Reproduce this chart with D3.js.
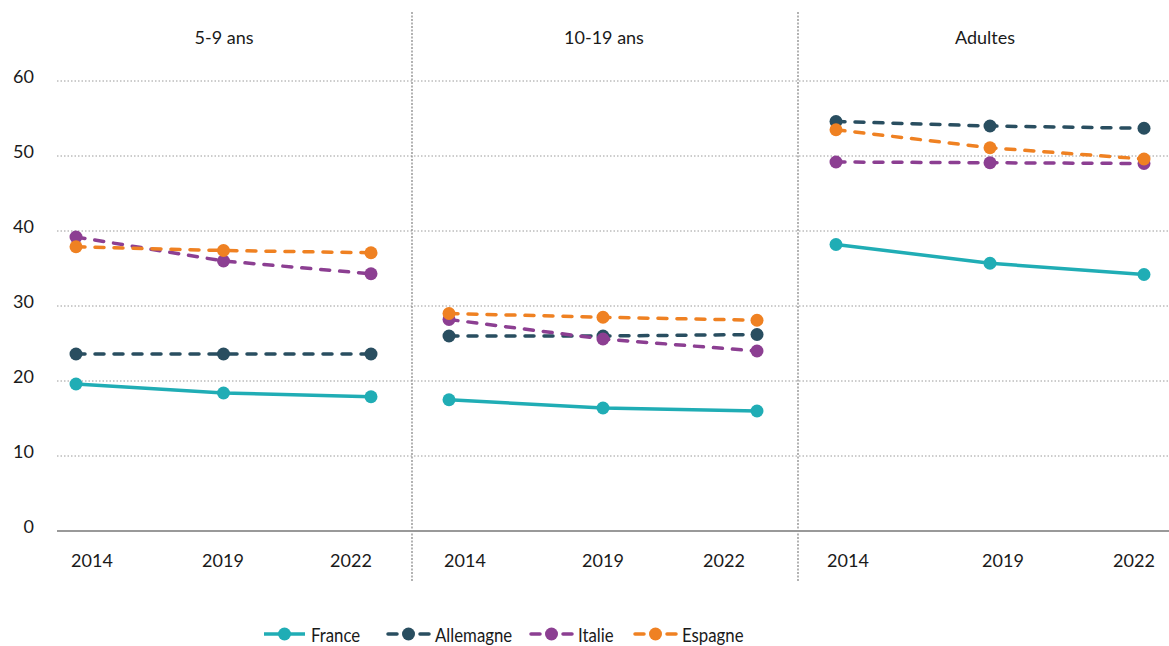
<!DOCTYPE html>
<html>
<head>
<meta charset="utf-8">
<script src="https://cdn.jsdelivr.net/npm/d3@7"></script>
<style>
  body { margin: 0; background: #fff; }
  svg { display: block; font-family: Lato, "Noto Sans", sans-serif; }
  .lbl { fill: #1a1a1a; font-size: 18px; }
</style>
</head>
<body>
<div id="chart"></div>
<script>
// data
var panels = ["5-9 ans", "10-19 ans", "Adultes"];
var years = ["2014", "2019", "2022"];
var countries = ["France", "Allemagne", "Italie", "Espagne"];
var yTicks = [0, 10, 20, 30, 40, 50, 60];

// one array per country: [panel][year]
var france    = [[19.6, 18.4, 17.9], [17.5, 16.4, 16.0], [38.2, 35.7, 34.2]];
var allemagne = [[23.6, 23.6, 23.6], [26.0, 26.0, 26.2], [54.6, 54.0, 53.7]];
var italie    = [[39.2, 36.0, 34.3], [28.2, 25.6, 24.0], [49.2, 49.1, 49.0]];
var espagne   = [[37.9, 37.4, 37.1], [29.0, 28.5, 28.1], [53.5, 51.1, 49.6]];

var seriesValues = [france, allemagne, italie, espagne];

/* styling */
var colors = ["#20adb5", "#294e60", "#8c3f92", "#ef8122"];
var dashed = [false, true, true, true];

/* layout */
var width = 1169, height = 646;
var gridLeft = 57, gridRight = 1169;
var dividers = [412, 798];
var pointRanges = [[76, 371], [449, 757], [836, 1144]];
var labelRanges = [[92, 223, 351], [465, 603, 724], [848, 1003, 1134]];
var titleX = [224, 604, 985];
var legendX = [264, 388, 531, 635];

var svg = d3.select("#chart").append("svg")
    .attr("width", width)
    .attr("height", height);

var y = d3.scaleLinear().domain([0, 60]).range([531, 81]);

/* horizontal dotted grid */
svg.append("g").selectAll("line")
    .data(yTicks.filter(function (d) { return d > 0; }))
    .enter().append("line")
    .attr("x1", gridLeft).attr("x2", gridRight)
    .attr("y1", function (d) { return y(d); })
    .attr("y2", function (d) { return y(d); })
    .attr("stroke", "#9a9a9a")
    .attr("stroke-width", 1)
    .attr("stroke-dasharray", "1.5,2");

/* y tick labels */
svg.append("g").selectAll("text")
    .data(yTicks)
    .enter().append("text")
    .attr("class", "lbl")
    .attr("x", 34)
    .attr("y", function (d) { return y(d) - 5; })
    .attr("text-anchor", "end")
    .attr("dominant-baseline", "central")
    .text(function (d) { return d; });

/* panel dividers */
svg.append("g").selectAll("line")
    .data(dividers)
    .enter().append("line")
    .attr("x1", function (d) { return d; })
    .attr("x2", function (d) { return d; })
    .attr("y1", 12).attr("y2", 582)
    .attr("stroke", "#8a8a8a")
    .attr("stroke-width", 1.3)
    .attr("stroke-dasharray", "2,1.5");

/* zero baseline */
svg.append("line")
    .attr("x1", gridLeft).attr("x2", gridRight)
    .attr("y1", y(0)).attr("y2", y(0))
    .attr("stroke", "#999")
    .attr("stroke-width", 2);

var line = d3.line()
    .x(function (d) { return d.x; })
    .y(function (d) { return y(d.v); });

panels.forEach(function (title, p) {
  var x = d3.scalePoint().domain(years).range(pointRanges[p]);
  var xl = d3.scaleOrdinal().domain(years).range(labelRanges[p]);
  var g = svg.append("g");

  g.append("text")
      .attr("class", "lbl")
      .attr("x", titleX[p]).attr("y", 37)
      .attr("text-anchor", "middle")
      .attr("dominant-baseline", "central")
      .text(title);

  g.selectAll("text.year")
      .data(years)
      .enter().append("text")
      .attr("class", "lbl year")
      .attr("x", function (d) { return xl(d); })
      .attr("y", 560)
      .attr("text-anchor", "middle")
      .attr("dominant-baseline", "central")
      .text(function (d) { return d; });

  countries.forEach(function (c, i) {
    var pts = years.map(function (yr, j) {
      return {x: x(yr), v: seriesValues[i][p][j]};
    });
    g.append("path")
        .datum(pts)
        .attr("d", line)
        .attr("fill", "none")
        .attr("stroke", colors[i])
        .attr("stroke-width", 3.5)
        .attr("stroke-linecap", dashed[i] ? "round" : "butt")
        .attr("stroke-dasharray", dashed[i] ? "9,10" : null);
    g.selectAll("circle.c" + i)
        .data(pts)
        .enter().append("circle")
        .attr("class", "c" + i)
        .attr("cx", function (d) { return d.x; })
        .attr("cy", function (d) { return y(d.v); })
        .attr("r", 6.5)
        .attr("fill", colors[i]);
  });
});

/* legend (condensed text, like the original) */
var legY = 634;
var leg = svg.append("g").selectAll("g")
    .data(countries)
    .enter().append("g")
    .attr("transform", function (d, i) { return "translate(" + legendX[i] + "," + legY + ")"; });
leg.append("line")
    .attr("x1", 0).attr("x2", 41)
    .attr("stroke", function (d, i) { return colors[i]; })
    .attr("stroke-width", 3.5)
    .attr("stroke-linecap", function (d, i) { return dashed[i] ? "round" : "butt"; })
    .attr("stroke-dasharray", function (d, i) { return dashed[i] ? "9,23" : null; });
leg.append("circle")
    .attr("cx", 20.5).attr("r", 6.5)
    .attr("fill", function (d, i) { return colors[i]; });
leg.append("text")
    .attr("class", "lbl")
    .attr("transform", "translate(47,0) scale(0.84,1)")
    .attr("dominant-baseline", "central")
    .style("font-size", "20px")
    .text(function (d) { return d; });
</script>
</body>
</html>
